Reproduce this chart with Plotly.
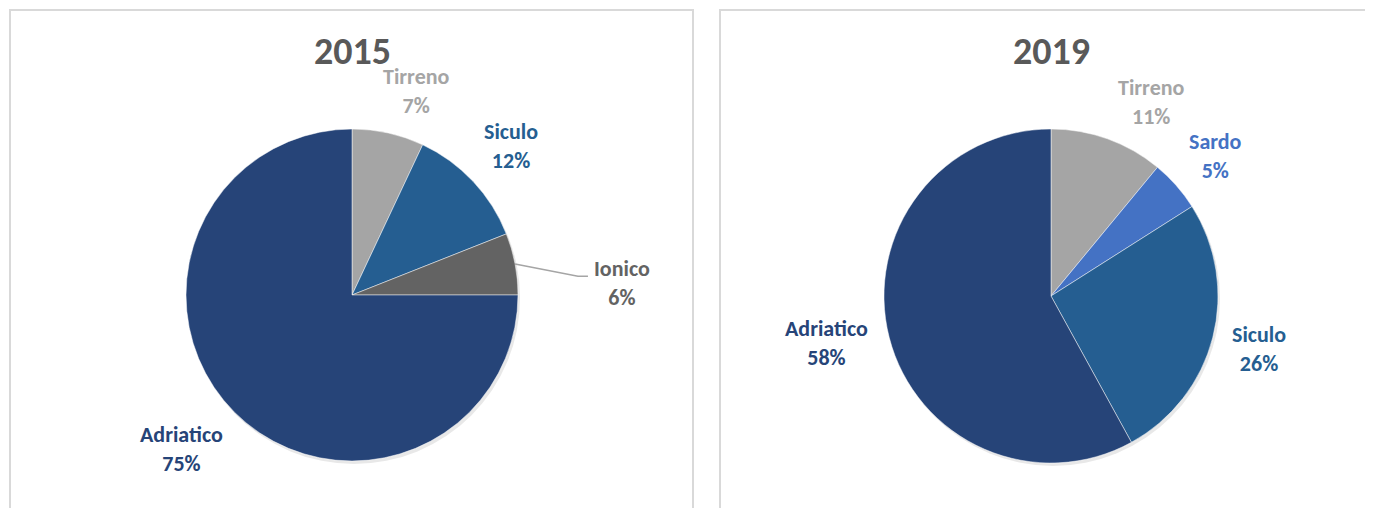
import math
import plotly.graph_objects as go

# ---- data ----
years = ["2015", "2019"]
labels_2015 = ["Tirreno", "Siculo", "Ionico", "Adriatico"]
values_2015 = [7, 12, 6, 75]
labels_2019 = ["Tirreno", "Sardo", "Siculo", "Adriatico"]
values_2019 = [11, 5, 26, 58]

# ---- styles ----
COLORS = {
    "Tirreno": "#A5A5A5",
    "Siculo": "#255E91",
    "Ionico": "#636363",
    "Adriatico": "#264478",
    "Sardo": "#4472C4",
}
TEXT_COLORS = {
    "Tirreno": "#A5A5A5",
    "Siculo": "#255E91",
    "Ionico": "#636363",
    "Adriatico": "#264478",
    "Sardo": "#4472C4",
}
W, H = 1373, 508
OFF = 8             # page offset of the figure inside the window
FONT = "Carlito, Lato, 'Open Sans', sans-serif"
LABEL_SIZE = 22
TITLE_SIZE = 38
# pie geometry in window pixels (center x, center y, radius)
PIES = [(352, 295, 166), (1051, 296, 167)]
PANELS = [(10, 693), (720, 1400)]
GAP = 12            # gap between pie edge and label box
# labels pulled out with a leader line: (distance / R, angle in degrees)
LEADER = {("2015", "Ionico"): (1.63, 87.5)}
# angular nudges of label positions (degrees)
NUDGE = {("2015", "Tirreno"): 5.0, ("2019", "Tirreno"): 7.5,
         ("2015", "Adriatico"): 3.0, ("2019", "Adriatico"): 2.5, ("2019", "Sardo"): 1.0}


def px(x):
    return (x - OFF) / W


def py(y):
    return 1 - (y - OFF) / H


fig = go.Figure()
annotations = []
shapes = []

for (x0, x1) in PANELS:
    shapes.append(dict(type="rect", xref="paper", yref="paper",
                       x0=px(x0), x1=px(x1), y0=-0.1, y1=py(10),
                       line=dict(color="#D9D9D9", width=2), fillcolor="rgba(0,0,0,0)",
                       layer="below"))

datasets = [(labels_2015, values_2015), (labels_2019, values_2019)]
for (labs, vals), year, (cx, cy, r) in zip(datasets, years, PIES):
    # soft shadow
    fig.add_trace(go.Pie(
        values=[1], labels=["shadow"], sort=False, textinfo="none", hoverinfo="skip",
        marker=dict(colors=["rgba(0,0,0,0.09)"], line=dict(width=0)),
        domain=dict(x=[px(cx - r + 2), px(cx + r + 2)], y=[py(cy + r + 3), py(cy - r + 3)]),
        showlegend=False,
    ))
    fig.add_trace(go.Pie(
        labels=labs, values=vals, sort=False, direction="clockwise", rotation=0,
        textinfo="none", hoverinfo="label+percent",
        marker=dict(colors=[COLORS[l] for l in labs], line=dict(color="rgba(255,255,255,0.6)", width=0.8)),
        domain=dict(x=[px(cx - r), px(cx + r)], y=[py(cy + r), py(cy - r)]),
        showlegend=False,
    ))
    annotations.append(dict(
        text=f"<b>{year}</b>", x=px(cx), y=py(51), xref="paper", yref="paper",
        xanchor="center", yanchor="middle", showarrow=False,
        font=dict(family=FONT, size=TITLE_SIZE, color="#595959"),
    ))
    total = sum(vals)
    cum = 0
    for lab, v in zip(labs, vals):
        mid = (cum + v / 2) / total * 2 * math.pi
        cum += v
        pct = f"{round(v / total * 100)}%"
        bw = len(lab) * 0.46 * LABEL_SIZE
        bh = 2.4 * LABEL_SIZE
        key = (year, lab)
        if key in LEADER:
            fac, ang = LEADER[key]
            a = math.radians(ang)
            d = fac * r
            lx, ly = cx + d * math.sin(a), cy - d * math.cos(a)
            sx, sy = cx + r * math.sin(mid), cy - r * math.cos(mid)
            ex, ey = lx - bw / 2 - 4, ly - 7
            shapes.append(dict(type="path", xref="paper", yref="paper",
                               path=f"M {px(sx)},{py(sy)} L {px(ex - 10)},{py(ey)} L {px(ex)},{py(ey)}",
                               line=dict(color="#A5A5A5", width=1.5)))
        else:
            a = mid + math.radians(NUDGE.get(key, 0.0))
            s, c = math.sin(a), math.cos(a)
            d = r + GAP + abs(s) * bw / 2 + abs(c) * bh / 2
            lx, ly = cx + d * s, cy - d * c
        annotations.append(dict(
            text=f"<b>{lab}</b><br><b>{pct}</b>", x=px(lx), y=py(ly),
            xref="paper", yref="paper", xanchor="center", yanchor="middle",
            showarrow=False, align="center",
            font=dict(family=FONT, size=LABEL_SIZE, color=TEXT_COLORS[lab]),
        ))

fig.update_layout(
    width=W, height=H, margin=dict(l=0, r=0, t=0, b=0),
    paper_bgcolor="white", plot_bgcolor="white",
    annotations=annotations, shapes=shapes,
)
fig.write_html("out.html")
